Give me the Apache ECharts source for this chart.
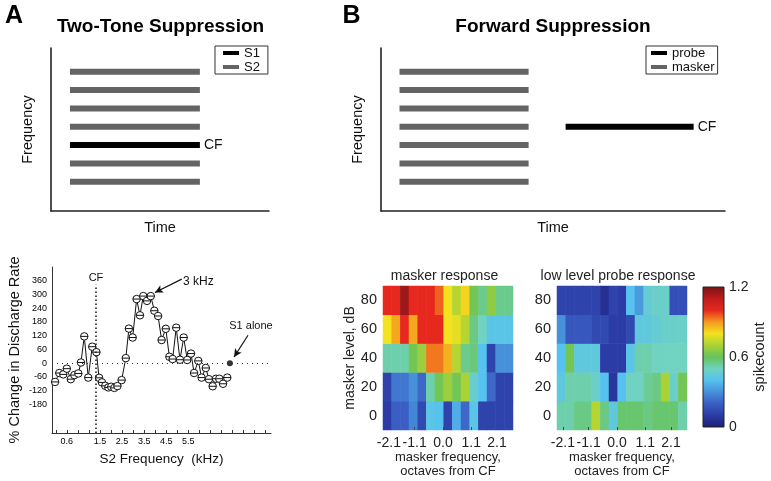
<!DOCTYPE html>
<html><head><meta charset="utf-8">
<script src="https://cdn.jsdelivr.net/npm/echarts@6/dist/echarts.min.js"></script>
<style>html,body{margin:0;padding:0;background:#fff}#c{width:771px;height:481px}</style>
</head><body><div id="c"></div>
<script>
// ---------- schematic (top) ----------
const s2Levels = [1, 2, 4, 5, 6, 7];
const s1Level = 3;
const toneOnOff = [8.7, 68.3];
const maskerLevels = [1, 2, 3, 4, 5, 6, 7];
const maskerOnOff = [8.5, 67.8];
const probeLevel = 4;
const probeOnOff = [84.8, 143.6];

// ---------- two-tone suppression curve ----------
const s2Freq = [-0.53,-0.34,-0.16,0.00,0.18,0.34,0.52,0.64,0.79,0.97,1.15,1.34,1.46,1.59,1.74,1.88,2.01,2.15,2.29,2.48,2.67,2.81,2.98,3.16,3.31,3.46,3.63,3.80,3.96,4.13,4.29,4.48,4.64,4.79,4.95,5.12,5.29,5.45,5.62,5.76,5.95,6.10,6.29,6.43,6.60,6.75,6.90,7.07,7.26];
const pctChange = [-82,-43,-49,-24,-70,-52,-45,3,117,-63,72,48,-64,-84,-99,-106,-103,-108,-100,-74,22,151,112,280,209,293,272,293,229,206,101,150,28,18,155,15,112,14,42,-43,10,-63,-21,-70,-101,-68,-68,-90,-63];
const s1Alone = [7.38, 0];
const cfFreq = 1.32;
const xTickValues = [0, 1.5, 2.5, 3.5, 4.5, 5.5];
const xTickLabels = ['0.6', '1.5', '2.5', '3.5', '4.5', '5.5'];
const xMinorTicks = [-0.5,0,0.5,1,1.5,2,2.5,3,3.5,4,4.5,5,5.5,6,6.5,7,7.5,8,8.5,9];
const yTickValues = [-180, -120, -60, 0, 60, 120, 180, 240, 300, 360];

// ---------- heatmaps ----------
const octaveBins = ['-2.2','-1.8','-1.5','-1.2','-0.8','-0.5','-0.2','0.2','0.5','0.8','1.2','1.5','1.9','2.2','2.5'];
const octaveTicks = [-2.1, -1.1, 0.0, 1.1, 2.1];
const maskerLevelsDb = ['0', '20', '40', '60', '80'];
// rows: 0 dB, 20, 40, 60, 80
const maskerResponse = [
  [0.10,0.20,0.20,0.28,0.14,0.42,0.40,0.12,0.36,0.22,0.42,0.12,0.12,0.12,0.12],
  [0.12,0.25,0.25,0.30,0.22,0.52,0.62,0.68,0.62,0.70,0.47,0.40,0.22,0.12,0.12],
  [0.52,0.52,0.52,0.62,0.68,0.93,0.93,0.87,0.72,0.55,0.57,0.40,0.12,0.30,0.30],
  [0.80,0.88,1.00,0.88,1.00,1.00,1.00,0.80,0.78,0.72,0.56,0.50,0.42,0.42,0.42],
  [1.00,1.00,1.15,1.00,1.00,1.00,0.95,0.80,0.72,0.82,0.62,0.55,0.66,0.55,0.55]
];
const probeResponse = [
  [0.52,0.52,0.56,0.56,0.72,0.56,0.44,0.58,0.58,0.58,0.56,0.58,0.58,0.58,0.52],
  [0.44,0.52,0.52,0.52,0.48,0.40,0.08,0.40,0.50,0.50,0.54,0.56,0.70,0.48,0.62],
  [0.40,0.62,0.44,0.44,0.44,0.10,0.10,0.10,0.42,0.52,0.52,0.50,0.50,0.50,0.50],
  [0.30,0.18,0.18,0.18,0.14,0.14,0.10,0.10,0.14,0.44,0.44,0.46,0.48,0.48,0.48],
  [0.12,0.12,0.12,0.12,0.12,0.06,0.12,0.10,0.40,0.32,0.46,0.48,0.48,0.16,0.16]
];
const cbTicks = [0, 0.6, 1.2];
const jetColors = ['#1f1f75','#2b3ca6','#3a5ec4','#4790da','#55c2ef','#70d2c0','#66c35a','#a8d236','#f3e21e','#f59a1e','#e6281e','#c01c1c','#7a1414'];

const FONT = 'Liberation Sans, Arial, Helvetica, sans-serif';
const TXT = '#111';

function hmData(rows){ const d=[]; rows.forEach((r,ri)=>r.forEach((v,ci)=>d.push([ci,ri,v]))); return d; }

const series = [];
function toneSeries(name, lvl, onoff, color, gridAx, cf){
  const s = {name, type:'line', xAxisIndex:gridAx, yAxisIndex:gridAx, symbol:'none', silent:true,
    data:[[onoff[0],lvl],[onoff[1],lvl]],
    lineStyle:{color, width:6, cap:'butt'}, itemStyle:{color}};
  if (cf) s.endLabel = {show:true, formatter:'CF', distance:4, fontSize:14, color:TXT, fontFamily:FONT};
  series.push(s);
}
s2Levels.forEach(l=>toneSeries('S2', l, toneOnOff, '#646464', 0, false));
toneSeries('S1', s1Level, toneOnOff, '#000', 0, true);
maskerLevels.forEach(l=>toneSeries('masker', l, maskerOnOff, '#646464', 1, false));
toneSeries('probe', probeLevel, probeOnOff, '#000', 1, true);

series.push({
  type:'line', xAxisIndex:2, yAxisIndex:2, silent:true,
  data: s2Freq.map((x,i)=>[x,pctChange[i]]),
  symbol:'path://M5,0A5,5,0,1,1,5,10A5,5,0,1,1,5,0ZM0,5L10,5', symbolSize:7.5,
  lineStyle:{color:'#111', width:1}, itemStyle:{color:'#fff', borderColor:'#111', borderWidth:1},
  z:3,
  markLine:{silent:true, symbol:['none','none'], animation:false,
    data:[
      {yAxis:0, lineStyle:{type:[1,4], color:'#333', width:1}, label:{show:false}},
      [{coord:[cfFreq,-305], lineStyle:{type:[1.5,2.5], color:'#222', width:1.6}}, {coord:[cfFreq,343], label:{show:true, position:'end', formatter:'CF', distance:1, fontSize:11, color:TXT, fontFamily:FONT}}],
      [{coord:[5.2,367], lineStyle:{type:'solid', color:'#111', width:1.2}, label:{show:false}}, {coord:[3.99,309], symbol:'arrow', symbolSize:[6,8]}],
      [{coord:[8.2,122], lineStyle:{type:'solid', color:'#111', width:1.2}, label:{show:false}}, {coord:[7.57,27], symbol:'arrow', symbolSize:[6,8]}]
    ]}
});
series.push({type:'scatter', xAxisIndex:2, yAxisIndex:2, silent:true, data:[s1Alone], symbol:'circle', symbolSize:6, itemStyle:{color:'#000'}, z:4});

const hm1Index = series.length;
series.push({type:'heatmap', xAxisIndex:3, yAxisIndex:3, data:hmData(maskerResponse), silent:true});
const hm2Index = series.length;
series.push({type:'heatmap', xAxisIndex:5, yAxisIndex:4, data:hmData(probeResponse), silent:true});
series.push({type:'bar', xAxisIndex:7, yAxisIndex:5, data:[cbTicks[2]], barWidth:'100%', silent:true,
  itemStyle:{color:{type:'linear', x:0, y:1, x2:0, y2:0, colorStops: jetColors.map((c,i)=>({offset:i/(jetColors.length-1), color:c}))}}});

const noAx = {axisLine:{show:false}, axisTick:{show:false}, axisLabel:{show:false}, splitLine:{show:false}};
function schemX(g, max){ return {gridIndex:g, type:'value', min:0, max, axisLine:{onZero:false, lineStyle:{color:'#222', width:1.6}}, axisTick:{show:false}, axisLabel:{show:false}, splitLine:{show:false}, name:'Time', nameLocation:'middle', nameGap:9, nameTextStyle:{fontSize:14.5, color:TXT, fontFamily:FONT}}; }
function schemY(g){ return {gridIndex:g, type:'value', min:-0.6, max:8.3, axisLine:{show:true, onZero:false, lineStyle:{color:'#222', width:1.6}}, axisTick:{show:false}, axisLabel:{show:false}, splitLine:{show:false}, name:'Frequency', nameLocation:'middle', nameGap:16, nameRotate:90, nameTextStyle:{fontSize:14.5, color:TXT, fontFamily:FONT}}; }
function octAxis(g){ return {gridIndex:g, type:'value', position:'bottom', min:-2.33, max:2.72, z:10,
  axisLine:{show:false}, axisTick:{show:true, inside:true, length:3, customValues:octaveTicks, lineStyle:{color:'#444'}},
  axisLabel:{customValues:octaveTicks, formatter:v=>v.toFixed(1), fontSize:14, margin:6, color:'#222', fontFamily:FONT},
  splitLine:{show:false}, name:'masker frequency,\noctaves from CF', nameLocation:'middle', nameGap:20,
  nameTextStyle:{fontSize:13, lineHeight:14, color:'#222', fontFamily:FONT}}; }
function lvlAxis(g, name){ const a = {gridIndex:g, type:'category', data:maskerLevelsDb, axisLine:{show:false},
  axisTick:{show:true, alignWithLabel:true, length:3, lineStyle:{color:'#444'}},
  axisLabel:{fontSize:14.5, margin:6, color:'#222', fontFamily:FONT}, splitLine:{show:false}};
  if (name){ a.name=name; a.nameLocation='middle'; a.nameGap=24; a.nameRotate=90; a.nameTextStyle={fontSize:14, color:'#222', fontFamily:FONT}; }
  return a; }

const gb = {outerBoundsMode:'none', containLabel:false};
const option = {
  animation:false,
  backgroundColor:'#fff',
  textStyle:{fontFamily:FONT},
  grid:[
    Object.assign({left:51, top:48, width:218, height:163}, gb),
    Object.assign({left:381, top:48, width:344, height:163}, gb),
    Object.assign({left:52, top:267, width:219, height:166}, gb),
    Object.assign({left:383, top:286, width:130, height:144}, gb),
    Object.assign({left:557, top:286, width:130, height:144}, gb),
    Object.assign({left:703, top:287, width:21, height:140}, gb)
  ],
  xAxis:[
    schemX(0, 100),
    schemX(1, 158),
    {gridIndex:2, type:'value', min:-0.67, max:9.24,
      axisLine:{onZero:false, lineStyle:{color:'#333', width:1}},
      axisTick:{show:true, inside:true, length:3, customValues:xMinorTicks, lineStyle:{color:'#333'}},
      axisLabel:{customValues:xTickValues, formatter:v=>{const i=xTickValues.indexOf(v); return i>=0?xTickLabels[i]:'';}, fontSize:9, margin:4, color:'#000'},
      splitLine:{show:false}, name:'S2 Frequency  (kHz)', nameLocation:'middle', nameGap:19, nameTextStyle:{fontSize:13.5, color:TXT, fontFamily:FONT}},
    Object.assign({gridIndex:3, type:'category', position:'bottom', data:octaveBins}, noAx),
    octAxis(3),
    Object.assign({gridIndex:4, type:'category', position:'bottom', data:octaveBins}, noAx),
    octAxis(4),
    Object.assign({gridIndex:5, type:'category', data:['cb']}, noAx)
  ],
  yAxis:[
    schemY(0),
    schemY(1),
    {gridIndex:2, type:'value', min:-305, max:420,
      axisLine:{show:true, onZero:false, lineStyle:{color:'#333', width:1}},
      axisTick:{show:false},
      axisLabel:{customValues:yTickValues, fontSize:9, margin:5, color:'#000'},
      splitLine:{show:false}, name:'% Change in Discharge Rate', nameLocation:'middle', nameGap:30, nameRotate:90,
      nameTextStyle:{fontSize:14.5, color:TXT, fontFamily:FONT}},
    lvlAxis(3, 'masker level, dB'),
    lvlAxis(4, null),
    {gridIndex:5, type:'value', position:'right', min:0, max:1.2, interval:0.6,
      axisLine:{show:false}, axisTick:{show:false},
      axisLabel:{customValues:cbTicks, fontSize:14, margin:5, color:'#222'}, splitLine:{show:false},
      name:'spikecount', nameLocation:'middle', nameGap:22, nameRotate:90, nameTextStyle:{fontSize:14.5, color:'#222', fontFamily:FONT}}
  ],
  legend:[
    {data:['S1','S2'], left:215, top:46, orient:'vertical', icon:'rect', itemWidth:16, itemHeight:4, itemGap:0,
      padding:[0,8,0,8], borderColor:'#333', borderWidth:1, selectedMode:false,
      textStyle:{fontSize:13, lineHeight:14, color:TXT, fontFamily:FONT}},
    {data:['probe','masker'], left:646, top:46, orient:'vertical', icon:'rect', itemWidth:16, itemHeight:4, itemGap:0,
      padding:[0,3,0,5], borderColor:'#333', borderWidth:1, selectedMode:false,
      textStyle:{fontSize:13, lineHeight:14, color:TXT, fontFamily:FONT}}
  ],
  visualMap:{type:'continuous', min:0, max:1.2, show:false, seriesIndex:[hm1Index, hm2Index], inRange:{color:jetColors}},
  graphic:[
    {type:'text', x:14, y:16, style:{text:'A', font:'bold 25px '+FONT, fill:'#000', textAlign:'center', textVerticalAlign:'middle'}},
    {type:'text', x:351.5, y:16, style:{text:'B', font:'bold 25px '+FONT, fill:'#000', textAlign:'center', textVerticalAlign:'middle'}},
    {type:'text', x:160.5, y:27, style:{text:'Two-Tone Suppression', font:'bold 19px '+FONT, fill:'#000', textAlign:'center', textVerticalAlign:'middle'}},
    {type:'text', x:553, y:27, style:{text:'Forward Suppression', font:'bold 19px '+FONT, fill:'#000', textAlign:'center', textVerticalAlign:'middle'}},
    {type:'text', x:183, y:282, style:{text:'3 kHz', font:'12px '+FONT, fill:TXT, textAlign:'left', textVerticalAlign:'middle'}},
    {type:'text', x:251, y:326, style:{text:'S1 alone', font:'11px '+FONT, fill:TXT, textAlign:'center', textVerticalAlign:'middle'}},
    {type:'text', x:444.5, y:276, style:{text:'masker response', font:'14px '+FONT, fill:'#222', textAlign:'center', textVerticalAlign:'middle'}},
    {type:'text', x:618, y:276, style:{text:'low level probe response', font:'14px '+FONT, fill:'#222', textAlign:'center', textVerticalAlign:'middle'}},
    {type:'rect', shape:{x:703, y:287, width:21, height:140}, style:{fill:'none', stroke:'#222', lineWidth:1}, z:100}
  ],
  series
};
const chart = echarts.init(document.getElementById('c'), null, {renderer:'canvas'});
chart.setOption(option);
</script></body></html>
